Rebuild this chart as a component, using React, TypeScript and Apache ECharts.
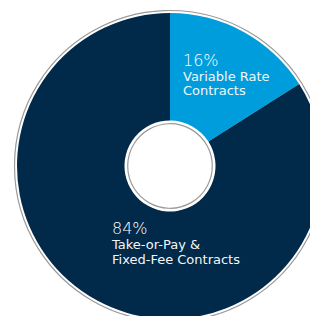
import React, { useEffect, useRef } from "react";
import * as echarts from "echarts";

const categories = ["Variable Rate Contracts", "Take-or-Pay & Fixed-Fee Contracts"];
const values = [16, 84];
const labelLines = [
  ["Variable Rate", "Contracts"],
  ["Take-or-Pay &", "Fixed-Fee Contracts"],
];
const colors = ["#009ddc", "#00294a"];

export default function App() {
  const ref = useRef<HTMLDivElement>(null);
  useEffect(() => {
    if (!ref.current) return;
    const chart = echarts.init(ref.current, null, { renderer: "svg" });
    const font = "DejaVu Sans";
    const mkText = (i: number, x: number, y: number, gap: number) => {
      const els: any[] = [
        {
          type: "text",
          x,
          y,
          z: 100,
          silent: true,
          style: {
            text: `${values[i]}%`,
            fill: "#ffffff",
            fontSize: 16,
            fontFamily: font,
            fontWeight: 300,
            verticalAlign: "top",
          },
        },
      ];
      labelLines[i].forEach((l, k) => {
        els.push({
          type: "text",
          x,
          y: y + 18 + k * gap,
          z: 100,
          silent: true,
          style: {
            text: l,
            fill: "#f4f6f8",
            fontSize: 13,
            fontFamily: font,
            fontWeight: "normal",
            verticalAlign: "top",
          },
        });
      });
      return els;
    };
    chart.setOption({
      animation: false,
      series: [
        {
          type: "pie",
          center: [170, 166],
          radius: [45.5, 153],
          startAngle: 90,
          clockwise: true,
          silent: true,
          z: 1,
          label: { show: false },
          labelLine: { show: false },
          itemStyle: { borderWidth: 0 },
          data: categories.map((name, i) => ({
            name,
            value: values[i],
            itemStyle: { color: colors[i] },
          })),
        },
      ],
      graphic: [
        {
          type: "circle",
          shape: { cx: 170, cy: 166, r: 155.5 },
          silent: true,
          z: 100,
          style: { fill: "none", stroke: "#9a9a9a", lineWidth: 1.2 },
        },
        {
          type: "circle",
          shape: { cx: 170, cy: 166, r: 42.3 },
          silent: true,
          z: 100,
          style: { fill: "none", stroke: "#9a9a9a", lineWidth: 1.2 },
        },
        ...mkText(0, 183, 52, 14),
        ...mkText(1, 112, 220, 15),
      ],
    });
    return () => chart.dispose();
  }, []);
  return (
    <div
      ref={ref}
      style={{ position: "fixed", left: 0, top: 0, width: 310, height: 316, background: "#fff" }}
    />
  );
}
